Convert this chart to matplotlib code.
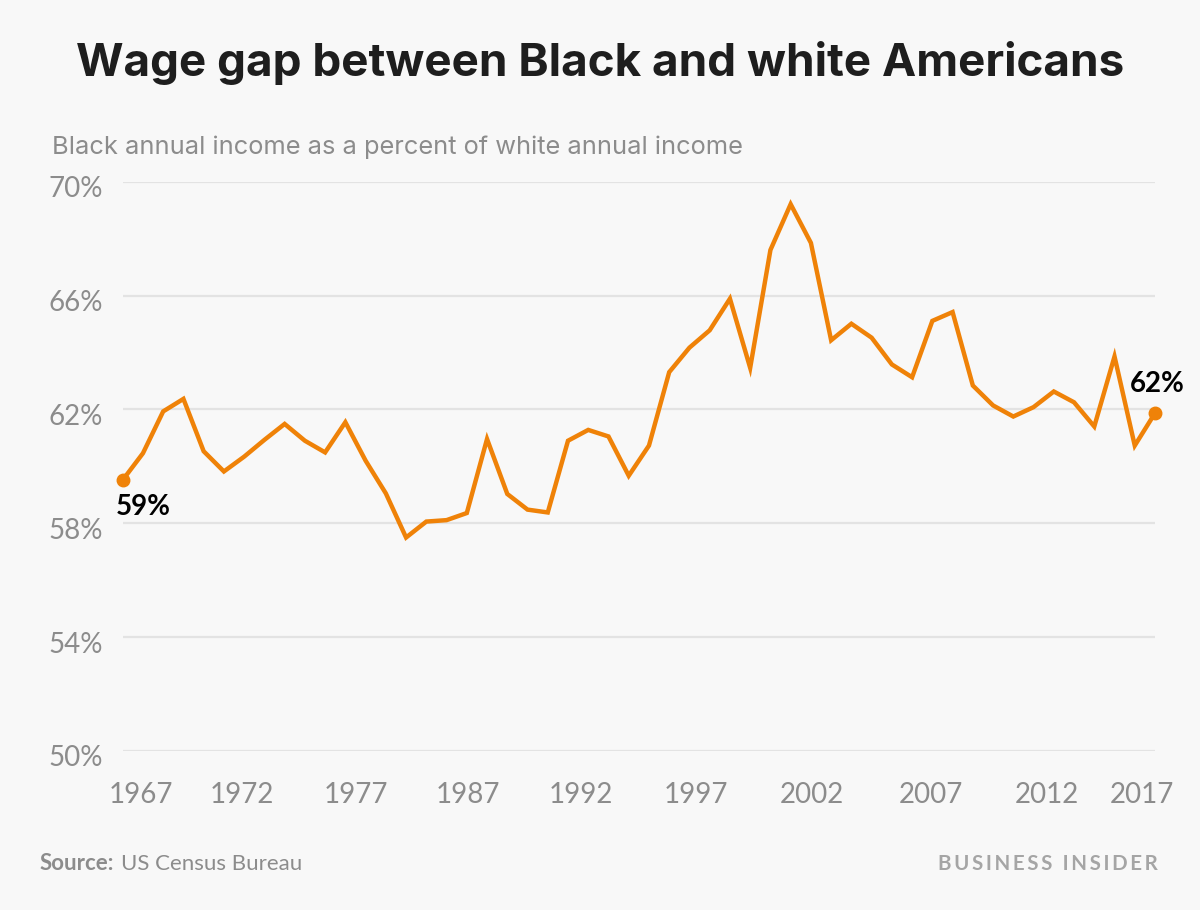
import matplotlib
matplotlib.use('Agg')
import matplotlib.pyplot as plt
import matplotlib.transforms as mtransforms

# Black annual income as % of white annual income (Census, 1967-2017, 2013 reported twice)
ratio = [59.52, 60.46, 61.93, 62.37, 60.53, 59.82, 60.34, 60.93, 61.49, 60.90,
         60.49, 61.55, 60.20, 59.05, 57.50, 58.06, 58.11, 58.36, 60.96, 59.03,
         58.48, 58.38, 60.90, 61.28, 61.05, 59.67, 60.73, 63.31, 64.17, 64.78,
         65.89, 63.46, 67.60, 69.21, 67.85, 64.43, 65.01, 64.52, 63.58, 63.13,
         65.11, 65.42, 62.84, 62.14, 61.75, 62.08, 62.63, 62.25, 61.40, 63.86,
         60.73, 61.87]

# where the year labels sit along the point index axis
xtick_pos = [0.9, 5.9, 11.5, 17.05, 22.65, 28.3, 34.05, 39.95, 45.65, 50.35]
xtick_labels = ['1967', '1972', '1977', '1987', '1992', '1997', '2002', '2007', '2012', '2017']
ytick_vals = [50, 54, 58, 62, 66, 70]
first_label = '59%'
last_label = '62%'

bg = '#f8f8f8'
orange = '#ef8208'
grey = '#8c8c8c'

fig = plt.figure(figsize=(12, 9.1), dpi=100, facecolor=bg)
ax = fig.add_axes([0.10225, 0.17473, 0.86025, 0.6256])
ax.set_facecolor(bg)

x = list(range(len(ratio)))
ax.plot(x, ratio, color=orange, lw=3.2, solid_joinstyle='miter', zorder=3)
ax.plot([x[0], x[-1]], [ratio[0], ratio[-1]], 'o', color=orange, ms=9,
        clip_on=False, zorder=4)

ax.set_xlim(0, len(ratio) - 1)
ax.set_ylim(50, 70)

ax.set_yticks(ytick_vals)
ax.set_yticklabels([f'{v}%' for v in ytick_vals])
ax.set_xticks(xtick_pos)
ax.set_xticklabels(xtick_labels)
ax.grid(axis='y', color='#e3e3e3', lw=1.6, zorder=0)
ax.tick_params(axis='both', length=0, colors=grey, labelsize=20)
ax.tick_params(axis='y', pad=14)
ax.tick_params(axis='x', pad=22)
for lab in ax.get_yticklabels() + ax.get_xticklabels():
    lab.set_fontfamily('Lato')
# y labels sit a little below their gridlines
shift = mtransforms.ScaledTranslation(0, -5 / 100, fig.dpi_scale_trans)
for lab in ax.get_yticklabels():
    lab.set_transform(lab.get_transform() + shift)
for s in ax.spines.values():
    s.set_visible(False)

# end-point labels
ax.annotate(first_label, (x[0], ratio[0]), xytext=(21, -27), textcoords='offset pixels',
            ha='center', va='center', fontsize=20, fontweight='bold',
            family='Lato', color='black', annotation_clip=False)
ax.annotate(last_label, (x[-1], ratio[-1]), xytext=(2, 29), textcoords='offset pixels',
            ha='center', va='center', fontsize=20, fontweight='bold',
            family='Lato', color='black', annotation_clip=False)

# title and subtitle
fig.text(0.5, 1 - 76 / 910, 'Wage gap between Black and white Americans',
         ha='center', va='baseline', fontsize=33, fontweight='bold',
         family='Inter', color='#1e1e1e')
fig.text(52 / 1200, 1 - 154 / 910, 'Black annual income as a percent of white annual income',
         ha='left', va='baseline', fontsize=18.3, family='Inter', color=grey)

# footer
src = fig.text(40 / 1200, 1 - 870 / 910, 'Source:', ha='left', va='baseline',
               fontsize=16, fontweight='bold', family='Lato', color=grey)
ax.annotate('US Census Bureau', xy=(1, 0), xycoords=src, xytext=(5, 0),
            textcoords='offset points', ha='left', va='bottom', fontsize=16,
            family='Lato', color=grey, annotation_clip=False)
fig.text(1158 / 1200, 1 - 870 / 910, '\u2009'.join('BUSINESS') + '\u2002' + '\u2009'.join('INSIDER'),
         ha='right', va='baseline', fontsize=14.8, fontweight='bold',
         family=['Lato', 'DejaVu Sans'], color='#a5a5a5')

fig.savefig('out.png', dpi=100, facecolor=bg)
